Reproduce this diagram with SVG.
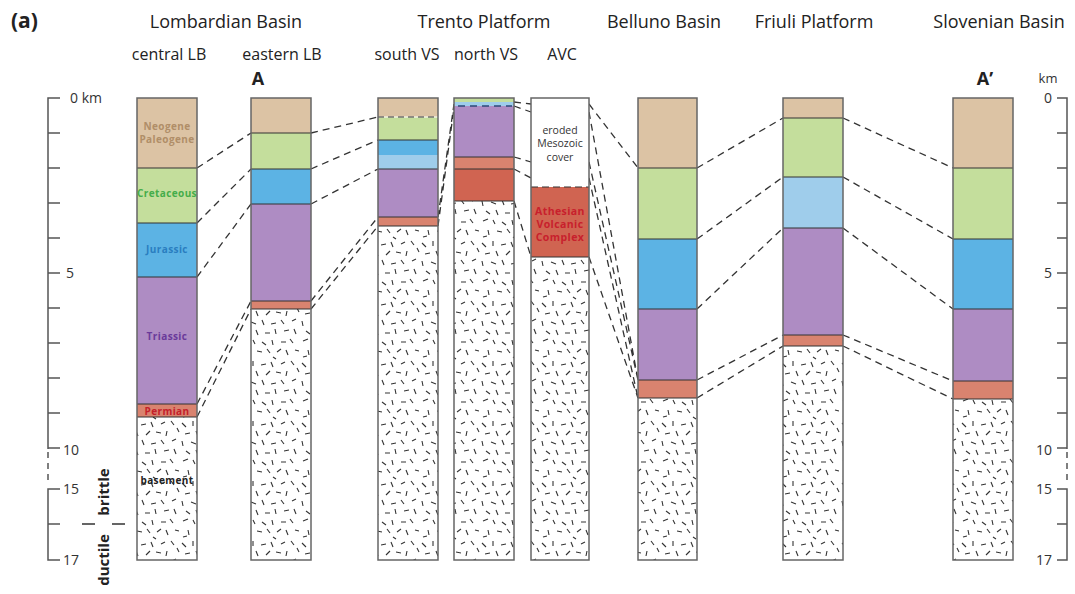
<svg xmlns="http://www.w3.org/2000/svg" width="1075" height="594" viewBox="0 0 1075 594">
<style>
text{font-family:"Open Sans","Liberation Sans",sans-serif;fill:#222}
.title{font-size:18px;text-anchor:middle}
.sub{font-size:16px;text-anchor:middle}
.num{font-size:14px;fill:#333}
.lbl{font-size:10px;font-weight:bold;text-anchor:middle;letter-spacing:0.4px}
.box{fill:none;stroke:#666;stroke-width:1.5}
.bd{stroke:#333;stroke-width:1.2}
.tan{fill:#dcc3a4}.grn{fill:#c4de9c}.blu{fill:#5cb3e4}.lbl2{fill:#9fcdeb}.pur{fill:#ae8cc3}.per{fill:#d9836f}.vol{fill:#d06451}.bas{fill:url(#bsm)}
.cn{fill:none;stroke:#333;stroke-width:1.3;stroke-dasharray:7 5}
.sc{fill:none;stroke:#555;stroke-width:1.5}
</style>
<defs>
<pattern id="bsm" width="60" height="60" patternUnits="userSpaceOnUse">
<rect width="60" height="60" fill="#fff"/>
<g stroke="#333" stroke-width="1.1">
<path d="M2 3l4 4M13 1v5M21 5l5-1M31 2l2 5M41 4l4-2M51 1l3 4M57 8l2 4M5 14l5-1M16 11l2 5M26 15l4-4M36 12l5 1M47 11l-1 5M2 21l1 5M11 22l5 2M22 20l2 5M31 24l5-1M41 20l3 4M52 21l4-2M6 31l4 3M16 30l2 5M25 33h5M35 29l1 5M44 31l5-1M54 29l2 5M3 41l5-2M13 40l2 4M22 42l4 3M32 40l1 5M41 42l5 0M50 39l3 4M8 50l1 5M17 51l5 1M27 49l3 4M37 52l4-3M46 50l2 5M55 50l4 1M3 57l4-1M33 57l3 2"/>
</g>
</pattern>
</defs>
<rect width="1075" height="594" fill="#fff"/>

<g id="titles">
<text x="11" y="28" style="font-size:21px;font-weight:bold">(a)</text>
<text class="title" x="226" y="28">Lombardian Basin</text>
<text class="title" x="484" y="28">Trento Platform</text>
<text class="title" x="664" y="28">Belluno Basin</text>
<text class="title" x="814" y="28">Friuli Platform</text>
<text class="title" x="999" y="28">Slovenian Basin</text>
<text class="sub" x="169" y="60">central LB</text>
<text class="sub" x="282" y="60">eastern LB</text>
<text class="sub" x="407" y="60">south VS</text>
<text class="sub" x="486" y="60">north VS</text>
<text class="sub" x="562" y="60">AVC</text>
<text x="258" y="85" style="font-size:18px;font-weight:bold;text-anchor:middle">A</text>
<text x="985" y="85" style="font-size:18px;font-weight:bold;text-anchor:middle">A’</text>
</g>

<g id="scale-left">
<path class="sc" d="M60 98H48V449M48 133h12M48 168h12M48 203h12M48 238h12M48 273h12M48 308h12M48 343h12M48 378h12M48 413h12M48 448h12"/>
<path class="sc" d="M48 452V484" stroke-dasharray="6 5"/>
<path class="sc" d="M60 489H48V560H60M48 524h12"/>
<text class="num" x="70" y="103">0 km</text>
<text class="num" x="66" y="278">5</text>
<text class="num" x="63" y="455">10</text>
<text class="num" x="63" y="494">15</text>
<text class="num" x="63" y="565">17</text>
<path d="M82 524h13M112 524h13" stroke="#333" stroke-width="1.3"/>
<text transform="translate(109 492) rotate(-90)" style="font-size:15px;font-weight:bold;text-anchor:middle">brittle</text>
<text transform="translate(109 560) rotate(-90)" style="font-size:15px;font-weight:bold;text-anchor:middle">ductile</text>
</g>

<g id="scale-right">
<path class="sc" d="M1057 98H1067V449M1067 133h-10M1067 168h-10M1067 203h-10M1067 238h-10M1067 273h-10M1067 308h-10M1067 343h-10M1067 378h-10M1067 413h-10M1067 448h-10"/>
<path class="sc" d="M1067 452V484" stroke-dasharray="6 5"/>
<path class="sc" d="M1057 489H1067V560H1057M1067 524h-10"/>
<text class="num" x="1048" y="83" style="text-anchor:middle;font-size:13px">km</text>
<text class="num" x="1052" y="103" style="text-anchor:end">0</text>
<text class="num" x="1052" y="278" style="text-anchor:end">5</text>
<text class="num" x="1052" y="455" style="text-anchor:end">10</text>
<text class="num" x="1052" y="494" style="text-anchor:end">15</text>
<text class="num" x="1052" y="565" style="text-anchor:end">17</text>
</g>

<g id="connectors">
<path class="cn" d="M197 168L251 133M197 223L251 169M197 277L251 204M197 404L251 301M197 417L251 309"/>
<path class="cn" d="M311 133L378 117M311 169L378 140M311 204L378 169M311 301L378 217M311 309L378 226"/>
<path class="cn" d="M438 217L454 104M438 226L454 108"/>
<path class="cn" d="M514 102L531 104M514 106L531 112M514 157L531 162M514 169L531 178M514 201L531 257"/>
<path class="cn" d="M589 104L638 168M589 112L638 380M589 162L638 380M589 178L638 398M589 257L638 398"/>
<path class="cn" d="M697 168L783 118M697 239L783 177M697 309L783 228M697 380L783 335M697 398L783 346"/>
<path class="cn" d="M843 118L953 168M843 177L953 239M843 228L953 309M843 335L953 381M843 346L953 399"/>
</g>

<g id="central-LB">
<rect class="tan" x="137" y="98" width="60" height="70"/>
<rect class="grn" x="137" y="168" width="60" height="55"/>
<rect class="blu" x="137" y="223" width="60" height="54"/>
<rect class="pur" x="137" y="277" width="60" height="127"/>
<rect class="per" x="137" y="404" width="60" height="13"/>
<rect class="bas" x="137" y="417" width="60" height="143"/>
<path class="bd" d="M137 168h60M137 223h60M137 277h60M137 404h60M137 417h60"/>
<rect class="box" x="137" y="98" width="60" height="462"/>
<text class="lbl" x="167" y="130" style="fill:#b08e68">Neogene</text>
<text class="lbl" x="167" y="143" style="fill:#b08e68">Paleogene</text>
<text class="lbl" x="167" y="197" style="fill:#45ad4a">Cretaceous</text>
<text class="lbl" x="167" y="253" style="fill:#2a7ec0">Jurassic</text>
<text class="lbl" x="167" y="340" style="fill:#6a3a9a">Triassic</text>
<text class="lbl" x="167" y="415" style="fill:#c4202a">Permian</text>
<text class="lbl" x="167" y="484" style="fill:#222">basement</text>
</g>

<g id="eastern-LB">
<rect class="tan" x="251" y="98" width="60" height="35"/>
<rect class="grn" x="251" y="133" width="60" height="36"/>
<rect class="blu" x="251" y="169" width="60" height="35"/>
<rect class="pur" x="251" y="204" width="60" height="97"/>
<rect class="per" x="251" y="301" width="60" height="8"/>
<rect class="bas" x="251" y="309" width="60" height="251"/>
<path class="bd" d="M251 133h60M251 169h60M251 204h60M251 301h60M251 309h60"/>
<rect class="box" x="251" y="98" width="60" height="462"/>
</g>

<g id="south-VS">
<rect class="tan" x="378" y="98" width="60" height="19"/>
<rect class="grn" x="378" y="117" width="60" height="23"/>
<rect class="blu" x="378" y="140" width="60" height="15"/>
<rect class="lbl2" x="378" y="155" width="60" height="14"/>
<rect class="pur" x="378" y="169" width="60" height="48"/>
<rect class="per" x="378" y="217" width="60" height="9"/>
<rect class="bas" x="378" y="226" width="60" height="334"/>
<path d="M378 117h60" stroke="#fff" stroke-width="1.2"/>
<path d="M378 117h60" stroke="#333" stroke-width="1.2" stroke-dasharray="6 4"/>
<path class="bd" d="M378 140h60M378 169h60M378 217h60M378 226h60"/>
<rect class="box" x="378" y="98" width="60" height="462"/>
</g>

<g id="north-VS">
<rect class="grn" x="454" y="98" width="60" height="4"/>
<rect class="lbl2" x="454" y="102" width="60" height="4"/>
<rect class="pur" x="454" y="106" width="60" height="51"/>
<rect class="per" x="454" y="157" width="60" height="12"/>
<rect class="vol" x="454" y="169" width="60" height="32"/>
<rect class="bas" x="454" y="201" width="60" height="359"/>
<path d="M458 106h54" stroke="#2c4a7a" stroke-width="1.5" stroke-dasharray="7 5"/>
<path class="bd" d="M454 157h60M454 169h60M454 201h60"/>
<rect class="box" x="454" y="98" width="60" height="462"/>
</g>

<g id="AVC">
<rect x="531" y="98" width="58" height="89" fill="#fff"/>
<rect class="vol" x="531" y="187" width="58" height="70"/>
<rect class="bas" x="531" y="257" width="58" height="303"/>
<path d="M531 187h58" stroke="#333" stroke-width="1.2" stroke-dasharray="7 4"/>
<path class="bd" d="M531 257h58"/>
<rect class="box" x="531" y="98" width="58" height="462"/>
<text x="560" y="134" style="font-size:10.5px;text-anchor:middle;fill:#333">eroded</text>
<text x="560" y="147" style="font-size:10.5px;text-anchor:middle;fill:#333">Mesozoic</text>
<text x="560" y="161" style="font-size:10.5px;text-anchor:middle;fill:#333">cover</text>
<text class="lbl" x="560" y="215" style="fill:#c8202c;font-size:10.5px">Athesian</text>
<text class="lbl" x="560" y="228" style="fill:#c8202c;font-size:10.5px">Volcanic</text>
<text class="lbl" x="560" y="241" style="fill:#c8202c;font-size:10.5px">Complex</text>
</g>

<g id="Belluno">
<rect class="tan" x="638" y="98" width="59" height="70"/>
<rect class="grn" x="638" y="168" width="59" height="71"/>
<rect class="blu" x="638" y="239" width="59" height="70"/>
<rect class="pur" x="638" y="309" width="59" height="71"/>
<rect class="per" x="638" y="380" width="59" height="18"/>
<rect class="bas" x="638" y="398" width="59" height="162"/>
<path class="bd" d="M638 168h59M638 239h59M638 309h59M638 380h59M638 398h59"/>
<rect class="box" x="638" y="98" width="59" height="462"/>
</g>

<g id="Friuli">
<rect class="tan" x="783" y="98" width="60" height="20"/>
<rect class="grn" x="783" y="118" width="60" height="59"/>
<rect class="lbl2" x="783" y="177" width="60" height="51"/>
<rect class="pur" x="783" y="228" width="60" height="107"/>
<rect class="per" x="783" y="335" width="60" height="11"/>
<rect class="bas" x="783" y="346" width="60" height="214"/>
<path class="bd" d="M783 118h60M783 177h60M783 228h60M783 335h60M783 346h60"/>
<rect class="box" x="783" y="98" width="60" height="462"/>
</g>

<g id="Slovenian">
<rect class="tan" x="953" y="98" width="60" height="70"/>
<rect class="grn" x="953" y="168" width="60" height="71"/>
<rect class="blu" x="953" y="239" width="60" height="70"/>
<rect class="pur" x="953" y="309" width="60" height="72"/>
<rect class="per" x="953" y="381" width="60" height="18"/>
<rect class="bas" x="953" y="399" width="60" height="161"/>
<path class="bd" d="M953 168h60M953 239h60M953 309h60M953 381h60M953 399h60"/>
<rect class="box" x="953" y="98" width="60" height="462"/>
</g>
</svg>
